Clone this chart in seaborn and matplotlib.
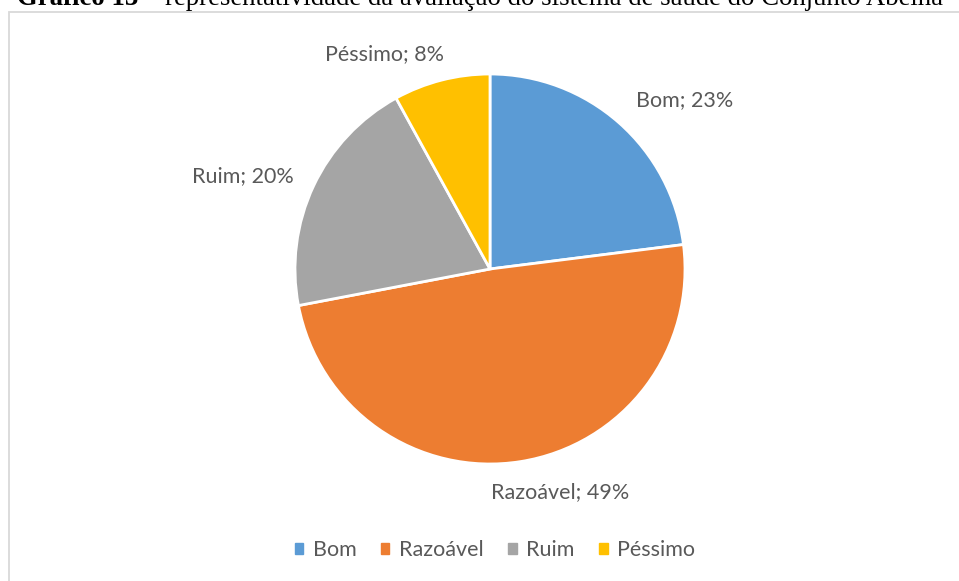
import matplotlib
matplotlib.use("Agg")
import matplotlib.pyplot as plt
import matplotlib.patches as mpatches
import seaborn as sns

categories = ["Bom", "Razoável", "Ruim", "Péssimo"]
values = [23, 49, 20, 8]
colors = ["#5B9BD5", "#ED7D31", "#A5A5A5", "#FFC000"]
title_bold = "Gráfico 13"
title_rest = " – representatividade da avaliação do sistema de saúde do Conjunto Abelha"

# label anchor positions (in pie-radius units), layout only
label_pos = [(0.997, 0.867), (0.362, -1.144), (-1.269, 0.477), (-0.541, 1.103)]

sns.set_theme(style="white")
plt.rcParams["font.family"] = ["Lato", "DejaVu Sans"]

W, H = 959, 581
cx, cy, R = 490, 269, 195
fig = plt.figure(figsize=(W / 100, H / 100), dpi=100)
fig.patch.set_facecolor("white")

# outer chart frame
fig.patches.append(mpatches.Rectangle((8.5 / W, -0.1), 2, (H - 12.5) / H + 0.1,
                                      transform=fig.transFigure, fill=False,
                                      edgecolor="#D9D9D9", linewidth=1.3, zorder=0))

ax = fig.add_axes([0, 0, 1, 1])
ax.pie(values, colors=colors, startangle=90, counterclock=False,
       wedgeprops=dict(edgecolor="white", linewidth=2))
ax.set_xlim(-cx / R, (W - cx) / R)
ax.set_ylim(-(H - cy) / R, cy / R)
ax.set_aspect("equal")
ax.axis("off")

for cat, v, (lx, ly) in zip(categories, values, label_pos):
    ax.text(lx, ly, f"{cat}; {v}%", ha="center", va="center",
            fontsize=15.5, color="#595959")

handles = [mpatches.Patch(color=c, label=cat) for c, cat in zip(colors, categories)]
fig.legend(handles=handles, loc="center", bbox_to_anchor=(495 / W, 1 - 550 / H),
           ncol=4, frameon=False, fontsize=15.5, labelcolor="#595959",
           handlelength=0.38, handleheight=0.38, handletextpad=0.45,
           columnspacing=1.15)

# partially visible title at the top (cut off as in the source)
fig.canvas.draw()
r = fig.canvas.get_renderer()
tb = fig.text(17 / W, 1 - 5 / H, title_bold, fontsize=19.3, fontweight="bold",
              family="Liberation Serif", va="baseline", ha="left", color="black")
bb = tb.get_window_extent(r)
fig.text(bb.x1 / W, 1 - 5 / H, title_rest, fontsize=19.3,
         family="Liberation Serif", va="baseline", ha="left", color="black")

fig.savefig("out.png", dpi=100)
